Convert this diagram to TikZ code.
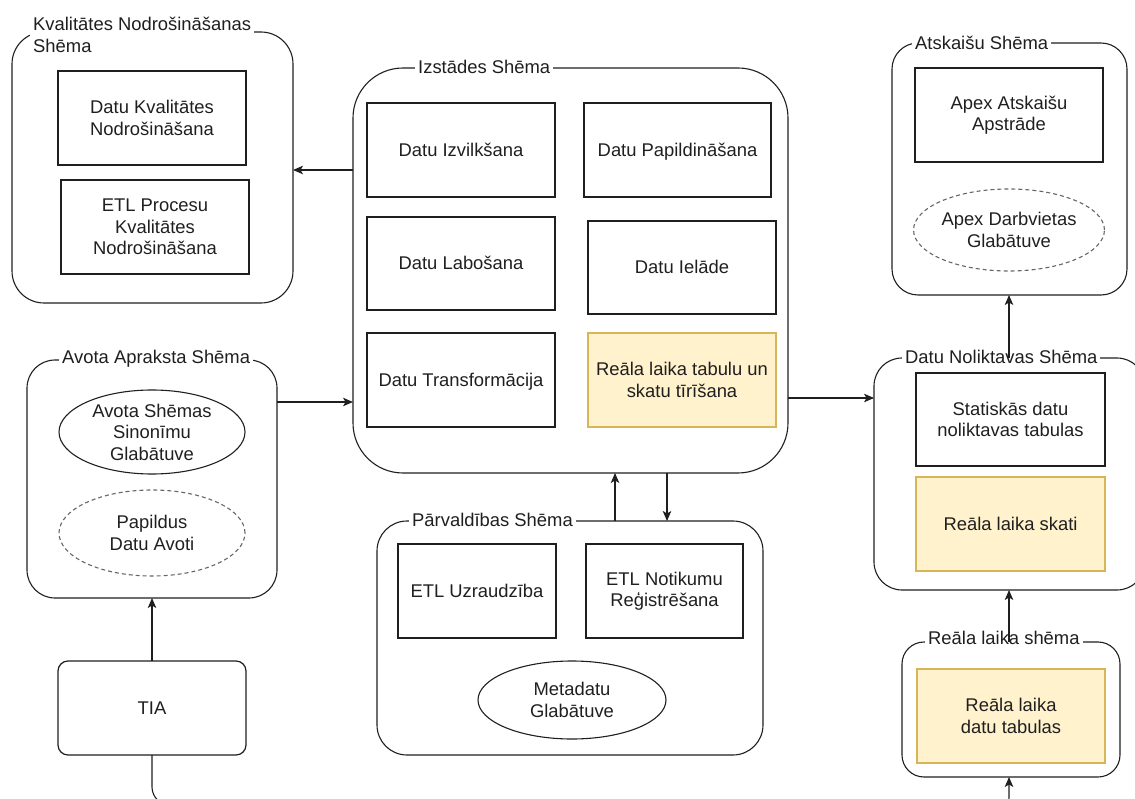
\documentclass[tikz,border=0pt]{standalone}
\usepackage{fontspec}
\setmainfont{Liberation Sans}
\usetikzlibrary{arrows.meta,shapes.geometric}
\definecolor{ink}{HTML}{1F1F1F}
\definecolor{dashgray}{HTML}{666666}
\definecolor{rtfill}{HTML}{FFF2CC}
\definecolor{rtdraw}{HTML}{D6B656}

\begin{document}
\begin{tikzpicture}[x=1pt,y=-1pt,
  txt/.style={font=\fontsize{18.4}{21.5}\selectfont, text=ink},
  oneline/.style={text height=16.6pt, text depth=3.9pt},
  schema/.style={draw=ink, line width=1.1pt, rounded corners=#1, inner sep=0pt, outer sep=0pt},
  procbox/.style={txt, draw=ink, line width=1.2pt, minimum width=188pt, minimum height=94pt,
    inner sep=0pt, outer sep=0pt, align=center},
  rtbox/.style={procbox, fill=rtfill, draw=rtdraw},
  store/.style={txt, ellipse, draw=ink, line width=1.1pt, inner sep=0pt, outer sep=0pt, align=center},
  extstore/.style={store, draw=dashgray, dash pattern=on 4pt off 3pt},
  schlabel/.style={txt, fill=white, inner xsep=3pt, inner ysep=1pt, anchor=base west},
  arr/.style={draw=ink, line width=1.1pt, -{Stealth[length=10pt,width=8.5pt,inset=2.5pt]}},
  link/.style={draw=ink, line width=1.1pt},
]
\useasboundingbox (0,0) rectangle (1135,799);

% ---- schema containers ----
\node[schema=32pt, minimum width=281pt, minimum height=271pt] (kq) at (152.5,167.5) {};
\node[schema=50pt, minimum width=435pt, minimum height=405pt] (iz) at (570.5,270.5) {};
\node[schema=26pt, minimum width=235pt, minimum height=252pt] (at) at (1009.5,169) {};
\node[schema=28pt, minimum width=271pt, minimum height=232pt] (dn) at (1009.5,474) {};
\node[schema=22pt, minimum width=218pt, minimum height=135pt] (rl) at (1011,709.5) {};
\node[schema=28pt, minimum width=250pt, minimum height=238pt] (av) at (152,479) {};
\node[schema=30pt, minimum width=386pt, minimum height=234pt] (pv) at (570,638) {};
\node[procbox, oneline, rounded corners=10pt] (tia) at (152,708) {TIA};

% ---- container titles on the top borders ----
\node[txt, fill=white, inner xsep=3pt, inner ysep=1pt, anchor=west, align=left]
  (kqt) at (30,34.8) {Kvalitātes Nodrošināšanas\\Shēma};
\node[schlabel] (izt) at (415,74) {Izstādes Shēma};
\node[schlabel] (att) at (912,50) {Atskaišu Shēma};
\node[schlabel] (dnt) at (902,363) {Datu Noliktavas Shēma\hspace{13pt}};
\node[schlabel] (rlt) at (925,644) {Reāla laika shēma\hspace{10pt}};
\node[schlabel] (avt) at (59,363) {Avota Apraksta Shēma};
\node[schlabel] (pvt) at (409,526) {Pārvaldības Shēma};

% ---- quality assurance ----
\node[procbox] (kq1) at (152,118) {Datu Kvalitātes\\Nodrošināšana};
\node[procbox] (kq2) at (155,227) {ETL Procesu\\Kvalitātes\\Nodrošināšana};

% ---- staging ----
\node[procbox, oneline] (iz1) at (461,150) {Datu Izvilkšana};
\node[procbox, oneline, minimum width=187pt] (iz2) at (677.5,150) {Datu Papildināšana};
\node[procbox, oneline, minimum height=93pt] (iz3) at (461,263.5) {Datu Labošana};
\node[procbox, oneline, minimum height=93pt] (iz4) at (682,267.5) {Datu Ielāde};
\node[procbox, oneline] (iz5) at (461,380) {Datu Transformācija};
\node[rtbox] (iz6) at (682,380) {Reāla laika tabulu un\\skatu tīrīšana};

% ---- reporting ----
\node[procbox] (at1) at (1009,115) {Apex Atskaišu\\Apstrāde};
\node[extstore, minimum width=188pt, minimum height=82pt] (at2) at (1009,230) {Apex Darbvietas\\Glabātuve};

% ---- data warehouse ----
\node[procbox, minimum width=189pt, minimum height=93pt] (dn1) at (1010.5,419.5) {Statiskās datu\\noliktavas tabulas};
\node[rtbox, oneline, minimum width=189pt] (dn2) at (1010.5,524) {Reāla laika skati};

% ---- real-time schema ----
\node[rtbox] (rl1) at (1011,716) {Reāla laika\\datu tabulas};

% ---- source description ----
\node[store, minimum width=186pt, minimum height=84pt] (av1) at (152,432) {Avota Shēmas\\Sinonīmu\\Glabātuve};
\node[extstore, minimum width=186pt, minimum height=86pt] (av2) at (152,533) {Papildus\\Datu Avoti};

% ---- administration ----
\node[procbox, oneline, minimum width=158pt] (pv1) at (477,591) {ETL Uzraudzība};
\node[procbox, minimum width=157pt] (pv2) at (664.5,591) {ETL Notikumu\\Reģistrēšana};
\node[store, minimum width=188pt, minimum height=78pt] (pv3) at (572,700) {Metadatu\\Glabātuve};

% ---- connectors ----
\coordinate (yq) at (0,170);
\coordinate (ya) at (0,402);
\coordinate (yd) at (0,398);
\coordinate (xu) at (615,0);
\coordinate (xd) at (667,0);
\coordinate (xr) at (1009,0);
\coordinate (inflow) at (960,806);
\coordinate (outflow) at (240,805);

\draw[arr] (iz.west |- yq) -- (kq.east |- yq);
\draw[arr] (av.east |- ya) -- (iz.west |- ya);
\draw[arr] (iz.east |- yd) -- (dn.west |- yd);
\draw[arr] (pv.north -| xu) -- (iz.south -| xu);
\draw[arr] (iz.south -| xd) -- (pv.north -| xd);
\draw[arr] (dn.north -| xr) -- (at.south -| xr);
\draw[arr] (rl.north -| xr) -- (dn.south -| xr);
\draw[arr, rounded corners=8pt] (inflow) -| (rl.south -| xr);
\draw[arr] (tia.north) -- (av.south);
\draw[link, rounded corners=18pt] (tia.south) |- (outflow);
\end{tikzpicture}
\end{document}
